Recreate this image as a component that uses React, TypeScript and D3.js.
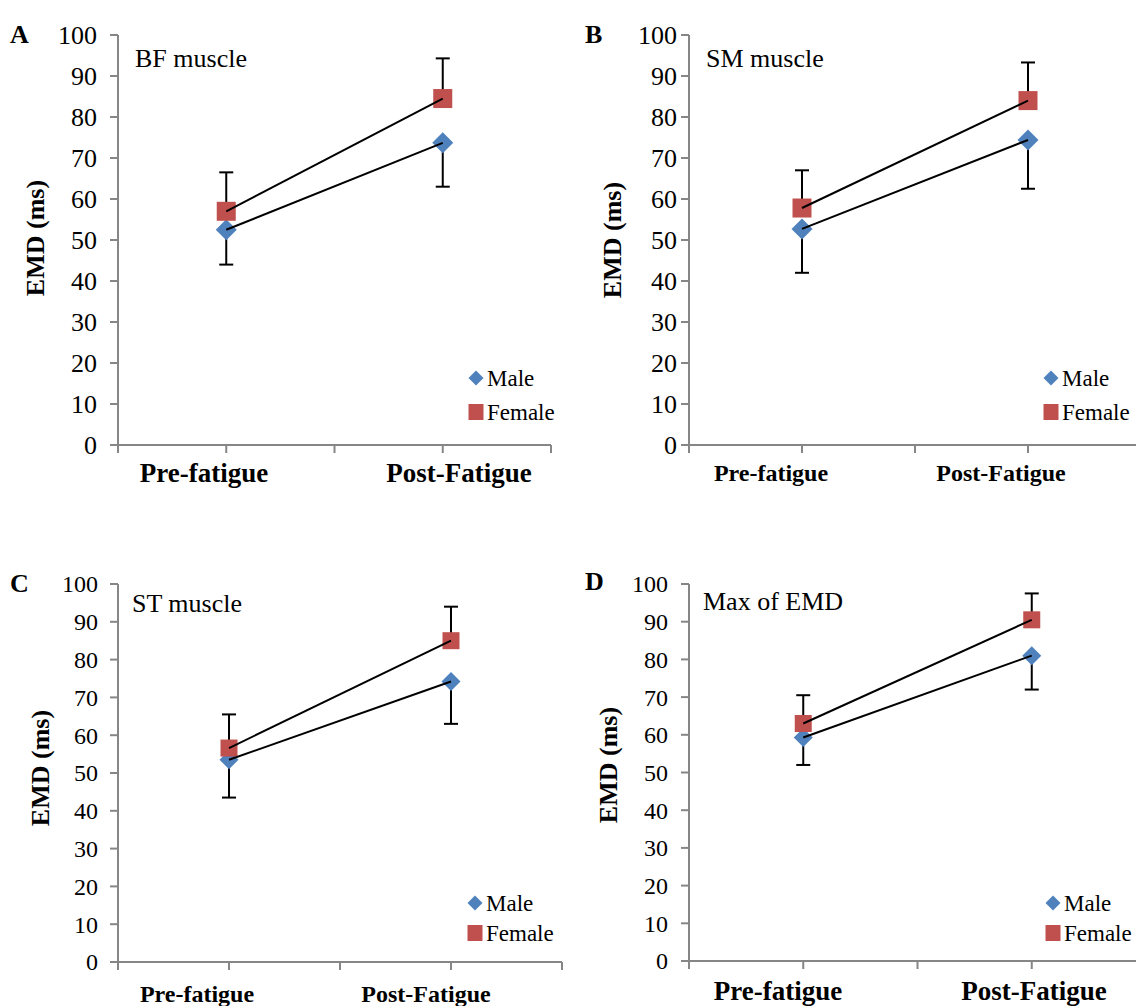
import React from "react";
import * as d3 from "d3";

// ---------- DATA ----------
const categories = ["Pre-fatigue", "Post-Fatigue"];
const panelLetters = ["A", "B", "C", "D"];
const panelTitles = ["BF muscle", "SM muscle", "ST muscle", "Max of EMD"];
const seriesNames = ["Male", "Female"];
const yTicks = [0, 10, 20, 30, 40, 50, 60, 70, 80, 90, 100];
const yAxisTitle = "EMD (ms)";

// means per panel [pre, post]
const maleMeans = [
  [52.5, 73.7],
  [52.7, 74.4],
  [53.5, 74.2],
  [59.3, 81.0],
];
const femaleMeans = [
  [57.0, 84.5],
  [57.8, 84.0],
  [56.6, 85.0],
  [63.0, 90.5],
];
// error bar half-lengths (male drawn downward, female upward)
const maleErr = [
  [8.5, 10.7],
  [10.7, 11.9],
  [10.0, 11.2],
  [7.3, 9.0],
];
const femaleErr = [
  [9.5, 9.8],
  [9.2, 9.3],
  [8.9, 9.0],
  [7.5, 7.0],
];

// ---------- LAYOUT ----------
const layouts = [
  { ax: 118, top: 35, bottom: 445, xEnd: 551, tickFs: 26, tickGap: 21, catFs: 27, catX: [204, 459], catY: 482,
    yTitleX: 44, yTitleY: 238, letter: [10, 43], title: [135, 67], legX: 476, legY: [378, 412] },
  { ax: 689, top: 35, bottom: 445, xEnd: 1141, tickFs: 26, tickGap: 12, catFs: 24, catX: [771, 1001], catY: 481,
    yTitleX: 621, yTitleY: 240, letter: [585, 43], title: [706, 67], legX: 1051, legY: [378, 412] },
  { ax: 118, top: 584, bottom: 962, xEnd: 562, tickFs: 24, tickGap: 20, catFs: 24, catX: [197, 426], catY: 1002,
    yTitleX: 49, yTitleY: 768, letter: [10, 592], title: [132, 612], legX: 475, legY: [903, 933] },
  { ax: 689, top: 584, bottom: 961, xEnd: 1146, tickFs: 24, tickGap: 21, catFs: 27, catX: [778, 1034], catY: 1000,
    yTitleX: 617, yTitleY: 765, letter: [585, 590], title: [703, 610], legX: 1053, legY: [903, 933] },
];

const MALE = "#4F81BD";
const FEMALE = "#C0504D";
const AXIS = "#868686";
const FONT = "'Liberation Serif', 'Times New Roman', serif";

function Panel({ i }: { i: number }) {
  const L = layouts[i];
  const y = d3.scaleLinear().domain([0, 100]).range([L.bottom, L.top]);
  // 4 intervals on the x axis, categories sit at positions 1 and 3
  const x = d3.scaleLinear().domain([0, 4]).range([L.ax, L.xEnd]);
  const catPos = [1, 3];
  const xTicks = [0, 1, 2, 3, 4];
  const mSize = i < 2 ? 21 : 19;
  const line = d3
    .line<number>()
    .x((_, k) => x(catPos[k]))
    .y((d) => y(d));
  const diamond = (cx: number, cy: number, s: number) =>
    `M${cx},${cy - s / 2}L${cx + s / 2},${cy}L${cx},${cy + s / 2}L${cx - s / 2},${cy}Z`;
  const cap = 7;

  return (
    <g>
      {/* panel letter */}
      <text x={L.letter[0]} y={L.letter[1]} fontFamily={FONT} fontWeight="bold" fontSize={26} fill="#000">
        {panelLetters[i]}
      </text>
      {/* y axis */}
      <line x1={L.ax} x2={L.ax} y1={L.top} y2={L.bottom} stroke={AXIS} strokeWidth={2} />
      {yTicks.map((t) => (
        <g key={t}>
          <line x1={L.ax - 8} x2={L.ax} y1={y(t)} y2={y(t)} stroke={AXIS} strokeWidth={2} />
          <text
            x={L.ax - L.tickGap}
            y={y(t)}
            dy="0.35em"
            textAnchor="end"
            fontFamily={FONT}
            fontSize={L.tickFs}
            fill="#000"
          >
            {t}
          </text>
        </g>
      ))}
      {/* x axis */}
      <line x1={L.ax} x2={L.xEnd} y1={L.bottom} y2={L.bottom} stroke={AXIS} strokeWidth={2} />
      {xTicks.map((t) => (
        <line key={t} x1={x(t)} x2={x(t)} y1={L.bottom} y2={L.bottom + 8} stroke={AXIS} strokeWidth={2} />
      ))}
      {categories.map((c, k) => (
        <text
          key={c}
          x={L.catX[k]}
          y={L.catY}
          textAnchor="middle"
          fontFamily={FONT}
          fontWeight="bold"
          fontSize={L.catFs}
          fill="#000"
        >
          {c}
        </text>
      ))}
      {/* y title */}
      <text
        transform={`translate(${L.yTitleX},${L.yTitleY}) rotate(-90)`}
        textAnchor="middle"
        fontFamily={FONT}
        fontWeight="bold"
        fontSize={26}
        fill="#000"
      >
        {yAxisTitle}
      </text>
      {/* title */}
      <text x={L.title[0]} y={L.title[1]} fontFamily={FONT} fontSize={26} fill="#000">
        {panelTitles[i]}
      </text>
      {/* error bars */}
      {catPos.map((p, k) => {
        const cx = x(p);
        const mTop = y(maleMeans[i][k]);
        const mBot = y(maleMeans[i][k] - maleErr[i][k]);
        const fBot = y(femaleMeans[i][k]);
        const fTop = y(femaleMeans[i][k] + femaleErr[i][k]);
        return (
          <g key={k} stroke="#000" strokeWidth={2}>
            <line x1={cx} x2={cx} y1={mTop} y2={mBot} />
            <line x1={cx - cap} x2={cx + cap} y1={mBot} y2={mBot} />
            <line x1={cx} x2={cx} y1={fBot} y2={fTop} />
            <line x1={cx - cap} x2={cx + cap} y1={fTop} y2={fTop} />
          </g>
        );
      })}
      {/* markers */}
      {catPos.map((p, k) => (
        <path key={"m" + k} d={diamond(x(p), y(maleMeans[i][k]), mSize)} fill={MALE} />
      ))}
      {catPos.map((p, k) => (
        <rect
          key={"f" + k}
          x={x(p) - mSize / 2 + 1}
          y={y(femaleMeans[i][k]) - mSize / 2 + 1}
          width={mSize - 2}
          height={mSize - 2}
          fill={FEMALE}
        />
      ))}
      {/* connecting lines on top */}
      <path d={line(maleMeans[i]) || ""} fill="none" stroke="#000" strokeWidth={2} />
      <path d={line(femaleMeans[i]) || ""} fill="none" stroke="#000" strokeWidth={2} />
      {/* legend */}
      <path d={diamond(L.legX, L.legY[0], 15)} fill={MALE} />
      <text x={L.legX + 11} y={L.legY[0]} dy="0.35em" fontFamily={FONT} fontSize={23} fill="#000">
        {seriesNames[0]}
      </text>
      <rect x={L.legX - 7.5} y={L.legY[1] - 8} width={15} height={16} fill={FEMALE} />
      <text x={L.legX + 11} y={L.legY[1]} dy="0.35em" fontFamily={FONT} fontSize={23} fill="#000">
        {seriesNames[1]}
      </text>
    </g>
  );
}

export default function App() {
  return (
    <svg
      width={1136}
      height={1006}
      style={{ position: "absolute", left: 0, top: 0, background: "#fff" }}
    >
      <rect width={1136} height={1006} fill="#fff" />
      {[0, 1, 2, 3].map((i) => (
        <Panel key={i} i={i} />
      ))}
    </svg>
  );
}
